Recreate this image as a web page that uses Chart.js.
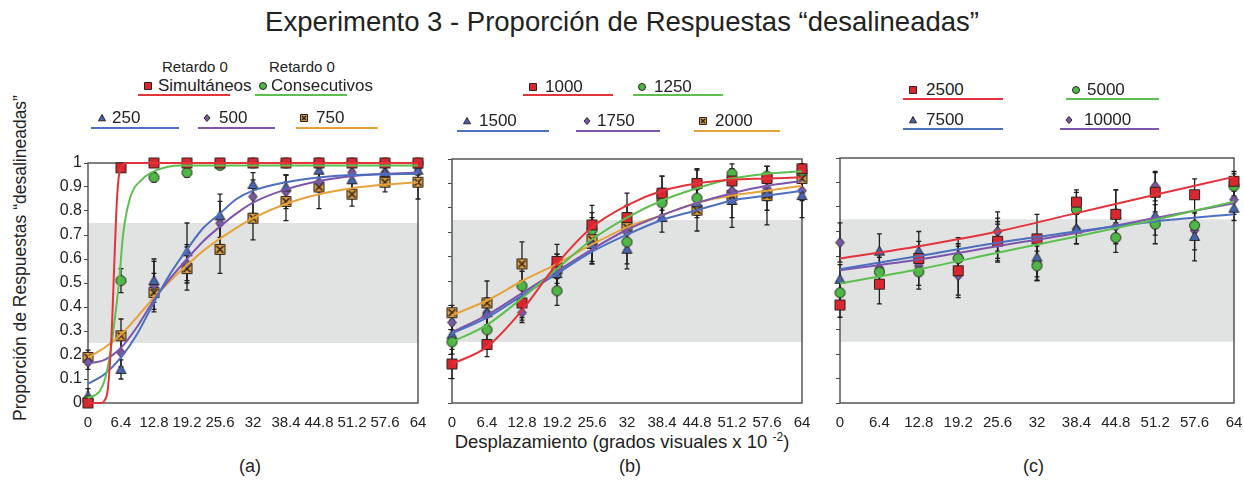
<!DOCTYPE html>
<html>
<head>
<meta charset="utf-8">
<title>Experimento 3</title>
<script src="https://cdn.jsdelivr.net/npm/chart.js@4.4.1/dist/chart.umd.min.js"></script>
<style>
  body { margin: 0; background: #fff; overflow: hidden; font-family: Arial, "Liberation Sans", sans-serif; color: #222; }
  #page { position: relative; width: 1244px; height: 482px; }
  .abs { position: absolute; white-space: nowrap; line-height: 1; }
  .panel { position: absolute; }
  .lgline { position: absolute; height: 2px; }
  .lgmark { position: absolute; }
</style>
</head>
<body>
<div id="page">
  <div class="abs" style="left:0;width:1244px;text-align:center;top:8px;font-size:27.5px;">Experimento 3 - Proporción de Respuestas “desalineadas”</div>
  <div class="abs" style="left:21px;top:258px;font-size:17.5px;transform:translate(-50%,-50%) rotate(-90deg);">Proporción de Respuestas “desalineadas”</div>
  <div class="abs" style="left:0;width:1244px;text-align:center;top:431px;font-size:18.5px;">Desplazamiento (grados visuales x 10 <sup style="font-size:12px;vertical-align:7px;">-2</sup>)</div>
  <div class="abs" style="left:239px;top:457px;font-size:18px;">(a)</div>
  <div class="abs" style="left:619px;top:457px;font-size:18px;">(b)</div>
  <div class="abs" style="left:1023px;top:457px;font-size:18px;">(c)</div>
  <div class="abs" style="left:162px;top:59px;font-size:15px;">Retardo 0</div>
  <div class="abs" style="left:269px;top:59px;font-size:15px;">Retardo 0</div>
  <div class="panel" id="pa"><canvas id="chartA"></canvas></div>
  <div class="panel" id="pb"><canvas id="chartB"></canvas></div>
  <div class="panel" id="pc"><canvas id="chartC"></canvas></div>
</div>
<script>
// ticks
const xVals = [0, 6.4, 12.8, 19.2, 25.6, 32, 38.4, 44.8, 51.2, 57.6, 64];
const xTickLabels = ['0', '6.4', '12.8', '19.2', '25.6', '32', '38.4', '44.8', '51.2', '57.6', '64'];
const yTickVals = [0, 0.1, 0.2, 0.3, 0.4, 0.5, 0.6, 0.7, 0.8, 0.9, 1];
const yTickLabels = ['0', '0.1', '0.2', '0.3', '0.4', '0.5', '0.6', '0.7', '0.8', '0.9', '1'];

// (a) retardo 0 y 250-750
const aSimult = [0, 0.98, 1, 1, 1, 1, 1, 1, 1, 1, 1];
const aSimultErr = [0, 0, 0, 0, 0, 0, 0, 0, 0, 0, 0];
const aConsec = [0.01, 0.51, 0.94, 0.96, 0.99, 1, 1, 1, 1, 1, 1];
const aConsecErr = [0.01, 0.05, 0.02, 0.02, 0, 0, 0, 0, 0, 0, 0];
const a250 = [0.03, 0.14, 0.51, 0.63, 0.78, 0.91, 0.90, 0.97, 0.93, 0.96, 0.97];
const a250Err = [0.03, 0.04, 0.09, 0.12, 0.09, 0.05, 0.05, 0.03, 0.04, 0.03, 0.02];
const a500 = [0.17, 0.21, 0.49, 0.58, 0.75, 0.86, 0.88, 0.92, 0.96, 0.96, 0.98];
const a500Err = [0.03, 0.06, 0.10, 0.08, 0.09, 0.07, 0.07, 0.04, 0.03, 0.03, 0.02];
const a750 = [0.19, 0.28, 0.46, 0.56, 0.64, 0.77, 0.84, 0.90, 0.87, 0.92, 0.92];
const a750Err = [0.03, 0.07, 0.08, 0.09, 0.10, 0.09, 0.08, 0.09, 0.05, 0.04, 0.07];

const aSimultFit = [[0, 0], [2.5, 0], [3.2, 0.01], [3.8, 0.05], [4.3, 0.18], [4.7, 0.35], [5.1, 0.58], [5.5, 0.8], [5.9, 0.93], [6.4, 0.98], [7.5, 1], [64, 1]];
const aConsecFit = [[0, 0.02], [2.3, 0.05], [3.3, 0.1], [4.1, 0.18], [4.9, 0.3], [6.0, 0.5], [6.8, 0.7], [8.1, 0.85], [10.4, 0.93], [13.3, 0.97], [17.8, 0.99], [64, 0.99]];
const a250Fit = [[0, 0.08], [3.2, 0.12], [6.4, 0.19], [9.6, 0.29], [12.8, 0.42], [16, 0.54], [19.2, 0.64], [22.4, 0.73], [25.6, 0.79], [28.8, 0.85], [32, 0.885], [38.4, 0.92], [44.8, 0.94], [51.2, 0.95], [57.6, 0.953], [64, 0.955]];
const a500Fit = [[0, 0.165], [3.2, 0.18], [6.4, 0.23], [9.6, 0.32], [12.8, 0.43], [16, 0.52], [19.2, 0.6], [22.4, 0.675], [25.6, 0.735], [28.8, 0.79], [32, 0.835], [38.4, 0.89], [44.8, 0.925], [51.2, 0.945], [57.6, 0.955], [64, 0.96]];
const a750Fit = [[0, 0.19], [3.2, 0.23], [6.4, 0.285], [9.6, 0.36], [12.8, 0.44], [16, 0.51], [19.2, 0.575], [22.4, 0.635], [25.6, 0.685], [28.8, 0.73], [32, 0.77], [38.4, 0.83], [44.8, 0.87], [51.2, 0.895], [57.6, 0.91], [64, 0.92]];

// (b) 1000-2000
const b1000 = [0.16, 0.24, 0.41, 0.58, 0.73, 0.76, 0.86, 0.90, 0.91, 0.92, 0.96];
const b1000Err = [0.06, 0.05, 0.06, 0.07, 0.08, 0.10, 0.07, 0.055, 0.05, 0.05, 0.02];
const b1250 = [0.25, 0.30, 0.48, 0.46, 0.71, 0.66, 0.82, 0.84, 0.94, 0.93, 0.95];
const b1250Err = [0.05, 0.05, 0.06, 0.06, 0.07, 0.09, 0.05, 0.07, 0.04, 0.04, 0.03];
const b1500 = [0.28, 0.37, 0.42, 0.53, 0.65, 0.63, 0.76, 0.82, 0.83, 0.86, 0.85];
const b1500Err = [0.04, 0.06, 0.08, 0.07, 0.08, 0.08, 0.06, 0.06, 0.11, 0.07, 0.09];
const b1750 = [0.33, 0.37, 0.37, 0.53, 0.65, 0.70, 0.82, 0.90, 0.87, 0.88, 0.87];
const b1750Err = [0.05, 0.06, 0.04, 0.08, 0.08, 0.08, 0.06, 0.06, 0.05, 0.05, 0.04];
const b2000 = [0.37, 0.41, 0.57, 0.55, 0.67, 0.72, 0.85, 0.79, 0.85, 0.85, 0.92];
const b2000Err = [0.03, 0.09, 0.09, 0.06, 0.09, 0.09, 0.08, 0.085, 0.09, 0.12, 0.05];

const b1000Fit = [[0, 0.16], [6.4, 0.23], [12.8, 0.38], [19.2, 0.57], [25.6, 0.72], [32, 0.81], [38.4, 0.87], [44.8, 0.9], [51.2, 0.915], [57.6, 0.92], [64, 0.925]];
const b1250Fit = [[0, 0.25], [6.4, 0.32], [12.8, 0.43], [19.2, 0.55], [25.6, 0.67], [32, 0.76], [38.4, 0.83], [44.8, 0.88], [51.2, 0.92], [57.6, 0.94], [64, 0.95]];
const b1500Fit = [[0, 0.285], [6.4, 0.35], [12.8, 0.44], [19.2, 0.53], [25.6, 0.62], [32, 0.69], [38.4, 0.75], [44.8, 0.79], [51.2, 0.83], [57.6, 0.85], [64, 0.87]];
const b1750Fit = [[0, 0.29], [6.4, 0.36], [12.8, 0.45], [19.2, 0.54], [25.6, 0.63], [32, 0.71], [38.4, 0.77], [44.8, 0.82], [51.2, 0.86], [57.6, 0.89], [64, 0.91]];
const b2000Fit = [[0, 0.36], [6.4, 0.42], [12.8, 0.5], [19.2, 0.57], [25.6, 0.65], [32, 0.72], [38.4, 0.77], [44.8, 0.82], [51.2, 0.85], [57.6, 0.87], [64, 0.89]];

// (c) 2500-10000
const c2500 = [0.40, 0.485, 0.59, 0.54, 0.66, 0.67, 0.82, 0.77, 0.86, 0.85, 0.905];
const c2500Err = [0.05, 0.08, 0.07, 0.10, 0.07, 0.10, 0.05, 0.10, 0.08, 0.065, 0.04];
const c5000 = [0.45, 0.535, 0.535, 0.59, 0.66, 0.56, 0.79, 0.675, 0.73, 0.725, 0.885];
const c5000Err = [0.05, 0.06, 0.07, 0.06, 0.08, 0.06, 0.07, 0.06, 0.08, 0.05, 0.05];
const c7500 = [0.505, 0.62, 0.62, 0.605, 0.665, 0.595, 0.71, 0.77, 0.765, 0.68, 0.795];
const c7500Err = [0.06, 0.07, 0.08, 0.07, 0.09, 0.08, 0.06, 0.10, 0.08, 0.10, 0.05];
const c10000 = [0.655, 0.55, 0.56, 0.52, 0.70, 0.57, 0.71, 0.72, 0.885, 0.705, 0.83];
const c10000Err = [0.08, 0.07, 0.08, 0.09, 0.08, 0.07, 0.06, 0.07, 0.06, 0.08, 0.06];

const c2500Fit = [[0, 0.59], [12.8, 0.64], [25.6, 0.70], [38.4, 0.775], [51.2, 0.85], [64, 0.923]];
const c5000Fit = [[0, 0.488], [12.8, 0.546], [25.6, 0.613], [38.4, 0.68], [51.2, 0.748], [64, 0.822]];
const c7500Fit = [[0, 0.546], [12.8, 0.6], [25.6, 0.654], [38.4, 0.70], [51.2, 0.741], [64, 0.77]];
const c10000Fit = [[0, 0.542], [12.8, 0.586], [25.6, 0.64], [38.4, 0.694], [51.2, 0.755], [64, 0.815]];

const bandLow = 0.25, bandHigh = 0.75;

const RED = '#e3343b', GREEN = '#5dbf50', BLUE = '#4d6fc0', PURPLE = '#7d55ad', ORANGE = '#e6a33c';
const FILL = { square: '#d8272e', circle: '#4db845', triangle: '#4466b4', diamond: '#7a58a8', xbox: '#e0a03a' };

Chart.defaults.font.family = 'Arial, "Liberation Sans", sans-serif';
Chart.defaults.font.size = 15;
Chart.defaults.color = '#222';

// small marker images used as pointStyle and in the legends
function markerCanvas(shape, s) {
    var c = document.createElement('canvas');
    var n = Math.ceil(s + 3);
    c.width = n; c.height = n;
    var g = c.getContext('2d');
    var m = n / 2, h = s / 2;
    g.fillStyle = FILL[shape];
    g.strokeStyle = '#2a2220';
    g.lineWidth = 1;
    g.beginPath();
    if (shape === 'square' || shape === 'xbox') {
        g.rect(m - h, m - h, s, s);
    } else if (shape === 'circle') {
        g.arc(m, m, h, 0, Math.PI * 2);
    } else if (shape === 'triangle') {
        g.moveTo(m, m - h);
        g.lineTo(m + h, m + h * 0.8);
        g.lineTo(m - h, m + h * 0.8);
        g.closePath();
    } else {
        g.moveTo(m, m - h);
        g.lineTo(m + h * 0.85, m);
        g.lineTo(m, m + h);
        g.lineTo(m - h * 0.85, m);
        g.closePath();
    }
    g.fill();
    g.stroke();
    if (shape === 'xbox') {
        g.beginPath();
        g.lineWidth = 1.6;
        g.moveTo(m - h + 1.5, m - h + 1.5); g.lineTo(m + h - 1.5, m + h - 1.5);
        g.moveTo(m + h - 1.5, m - h + 1.5); g.lineTo(m - h + 1.5, m + h - 1.5);
        g.stroke();
    }
    return c;
}

const markSize = { square: 10, circle: 10, triangle: 10, diamond: 10, xbox: 10 };

// grey band, frame and error bars
const panelDecor = {
    id: 'panelDecor',
    beforeDatasetsDraw(chart) {
        const ctx = chart.ctx, a = chart.chartArea;
        const ys = chart.scales.y, xs = chart.scales.x;
        ctx.save();
        ctx.fillStyle = '#e1e2e2';
        const t = ys.getPixelForValue(bandHigh), b = ys.getPixelForValue(bandLow);
        ctx.fillRect(a.left, t, a.right - a.left, b - t);
        ctx.strokeStyle = '#555';
        ctx.lineWidth = 1.5;
        ctx.strokeRect(a.left, a.top, a.right - a.left, a.bottom - a.top);
        // error bars
        ctx.strokeStyle = '#1e1e1e';
        ctx.lineWidth = 1.3;
        chart.data.datasets.forEach(function (ds) {
            if (!ds.errors) return;
            ds.data.forEach(function (p, i) {
                const e = ds.errors[i];
                if (!e) return;
                const x = xs.getPixelForValue(p.x);
                const y1 = ys.getPixelForValue(Math.max(0, p.y - e));
                const y2 = ys.getPixelForValue(Math.min(1, p.y + e));
                ctx.beginPath();
                ctx.moveTo(x, y1); ctx.lineTo(x, y2);
                ctx.moveTo(x - 2.5, y1); ctx.lineTo(x + 2.5, y1);
                ctx.moveTo(x - 2.5, y2); ctx.lineTo(x + 2.5, y2);
                ctx.stroke();
            });
        });
        ctx.restore();
    }
};

function makePanel(canvasId, wrapId, box, series, showYLabels) {
    const plotW = box.right - box.left, plotH = box.bottom - box.top;
    const padL = 60, padT = 20, padR = 20, axisH = 34;
    const wrap = document.getElementById(wrapId);
    wrap.style.left = (box.left - padL) + 'px';
    wrap.style.top = (box.top - padT) + 'px';
    const cv = document.getElementById(canvasId);
    cv.width = plotW + padL + padR;
    cv.height = plotH + padT + axisH;

    const datasets = [];
    series.forEach(function (s) {
        datasets.push({
            data: s.fit.map(function (p) { return { x: p[0], y: p[1] }; }),
            borderColor: s.color,
            borderWidth: 2,
            pointRadius: 0,
            cubicInterpolationMode: 'monotone',
            clip: false
        });
    });
    series.forEach(function (s) {
        datasets.push({
            data: xVals.map(function (x, i) { return { x: x, y: s.values[i] }; }),
            errors: s.errors,
            showLine: false,
            pointStyle: markerCanvas(s.shape, markSize[s.shape]),
            pointRadius: 5,
            clip: false
        });
    });

    return new Chart(cv, {
        type: 'line',
        data: { datasets: datasets },
        options: {
            responsive: false,
            animation: false,
            layout: { padding: { left: 0, top: padT, right: padR, bottom: 0 } },
            plugins: { legend: { display: false }, tooltip: { enabled: false } },
            scales: {
                x: {
                    type: 'linear', min: 0, max: 64,
                    afterBuildTicks: function (sc) { sc.ticks = xVals.map(function (v) { return { value: v }; }); },
                    afterFit: function (sc) { sc.height = axisH; sc.paddingLeft = 0; sc.paddingRight = 0; },
                    grid: { display: false },
                    border: { display: false },
                    ticks: {
                        autoSkip: false, maxRotation: 0, padding: 3,
                        font: { size: 15 },
                        callback: function (v, i) { return xTickLabels[i]; }
                    }
                },
                y: {
                    min: 0, max: 1,
                    afterBuildTicks: function (sc) { sc.ticks = yTickVals.map(function (v) { return { value: v }; }); },
                    afterFit: function (sc) { sc.width = padL; sc.paddingTop = 0; sc.paddingBottom = 0; },
                    grid: { drawOnChartArea: false, tickLength: 4, color: '#444' },
                    border: { display: false },
                    ticks: {
                        display: showYLabels, padding: 2,
                        font: { size: 16 },
                        callback: function (v, i) { return yTickLabels[i]; }
                    }
                }
            }
        },
        plugins: [panelDecor]
    });
}

makePanel('chartA', 'pa', { left: 88, top: 163, right: 418, bottom: 403 }, [
    { color: RED, shape: 'square', values: aSimult, errors: aSimultErr, fit: aSimultFit },
    { color: GREEN, shape: 'circle', values: aConsec, errors: aConsecErr, fit: aConsecFit },
    { color: BLUE, shape: 'triangle', values: a250, errors: a250Err, fit: a250Fit },
    { color: PURPLE, shape: 'diamond', values: a500, errors: a500Err, fit: a500Fit },
    { color: ORANGE, shape: 'xbox', values: a750, errors: a750Err, fit: a750Fit }
], true);

makePanel('chartB', 'pb', { left: 452, top: 159, right: 802, bottom: 403 }, [
    { color: RED, shape: 'square', values: b1000, errors: b1000Err, fit: b1000Fit },
    { color: GREEN, shape: 'circle', values: b1250, errors: b1250Err, fit: b1250Fit },
    { color: BLUE, shape: 'triangle', values: b1500, errors: b1500Err, fit: b1500Fit },
    { color: PURPLE, shape: 'diamond', values: b1750, errors: b1750Err, fit: b1750Fit },
    { color: ORANGE, shape: 'xbox', values: b2000, errors: b2000Err, fit: b2000Fit }
], false);

makePanel('chartC', 'pc', { left: 840, top: 158, right: 1234, bottom: 403 }, [
    { color: RED, shape: 'square', values: c2500, errors: c2500Err, fit: c2500Fit },
    { color: GREEN, shape: 'circle', values: c5000, errors: c5000Err, fit: c5000Fit },
    { color: BLUE, shape: 'triangle', values: c7500, errors: c7500Err, fit: c7500Fit },
    { color: PURPLE, shape: 'diamond', values: c10000, errors: c10000Err, fit: c10000Fit }
], false);

// legends: marker, label and coloured underline
const legendItems = [
    { label: 'Simultáneos', shape: 'square', color: RED, mx: 148, my: 86, tx: 158, line: [138, 230, 95] },
    { label: 'Consecutivos', shape: 'circle', color: GREEN, mx: 263, my: 86, tx: 271, line: [255, 347, 95] },
    { label: '250', shape: 'triangle', color: BLUE, mx: 102, my: 118, tx: 112, line: [91, 179, 128] },
    { label: '500', shape: 'diamond', color: PURPLE, mx: 207, my: 118, tx: 219, line: [198, 275, 128] },
    { label: '750', shape: 'xbox', color: ORANGE, mx: 304, my: 118, tx: 316, line: [296, 378, 128] },
    { label: '1000', shape: 'square', color: RED, mx: 533, my: 87, tx: 545, line: [523, 613, 95] },
    { label: '1250', shape: 'circle', color: GREEN, mx: 642, my: 87, tx: 654, line: [633, 723, 95] },
    { label: '1500', shape: 'triangle', color: BLUE, mx: 467, my: 121, tx: 479, line: [457, 549, 131] },
    { label: '1750', shape: 'diamond', color: PURPLE, mx: 587, my: 121, tx: 597, line: [576, 660, 131] },
    { label: '2000', shape: 'xbox', color: ORANGE, mx: 703, my: 121, tx: 715, line: [694, 780, 131] },
    { label: '2500', shape: 'square', color: RED, mx: 913, my: 90, tx: 926, line: [903, 1003, 99] },
    { label: '5000', shape: 'circle', color: GREEN, mx: 1076, my: 90, tx: 1087, line: [1066, 1159, 99] },
    { label: '7500', shape: 'triangle', color: BLUE, mx: 913, my: 120, tx: 926, line: [903, 1003, 129] },
    { label: '10000', shape: 'diamond', color: PURPLE, mx: 1069, my: 120, tx: 1084, line: [1060, 1159, 129] }
];

const page = document.getElementById('page');
legendItems.forEach(function (it) {
    const mk = markerCanvas(it.shape, 7);
    mk.className = 'lgmark';
    mk.style.left = (it.mx - mk.width / 2) + 'px';
    mk.style.top = (it.my - mk.height / 2) + 'px';
    page.appendChild(mk);
    const tx = document.createElement('div');
    tx.className = 'abs';
    tx.style.left = it.tx + 'px';
    tx.style.top = (it.my - 9) + 'px';
    tx.style.fontSize = '17px';
    tx.textContent = it.label;
    page.appendChild(tx);
    const ln = document.createElement('div');
    ln.className = 'lgline';
    ln.style.left = it.line[0] + 'px';
    ln.style.width = (it.line[1] - it.line[0]) + 'px';
    ln.style.top = (it.line[2] - 1) + 'px';
    ln.style.background = it.color;
    page.appendChild(ln);
});
</script>
</body>
</html>
